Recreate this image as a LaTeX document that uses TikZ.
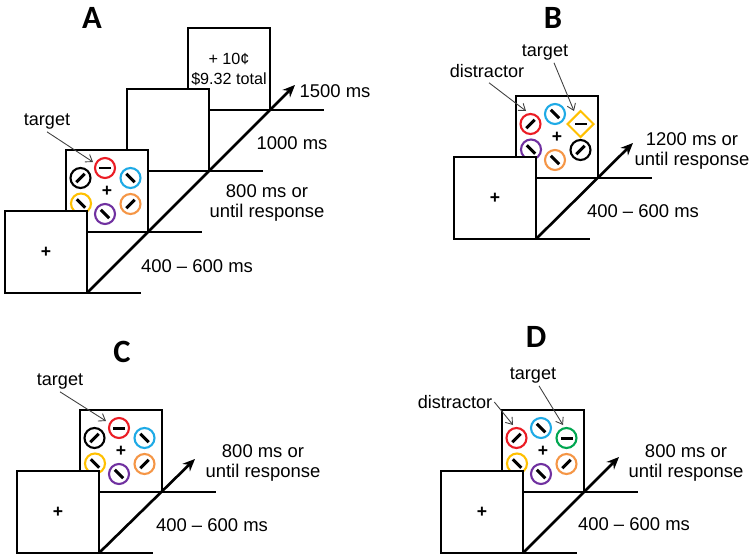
\documentclass[tikz,border=0pt]{standalone}
\usepackage{fontspec}
\setmainfont{Liberation Sans}
\newfontfamily\panelfont{Carlito}
\usetikzlibrary{calc,arrows.meta}
\definecolor{ringred}{RGB}{235,28,36}
\definecolor{ringblue}{RGB}{30,170,230}
\definecolor{ringorange}{RGB}{245,150,70}
\definecolor{ringpurple}{RGB}{112,48,160}
\definecolor{ringyellow}{RGB}{255,192,0}
\definecolor{ringgreen}{RGB}{0,166,80}
\tikzset{
  screen/.style={draw, fill=white, line width=1.4pt, minimum size=1.64cm, inner sep=0pt, outer sep=0pt, font=\fontsize{10}{12}\selectfont\bfseries},
  trackline/.style={line width=1.4pt},
  timeline/.style={line width=1.5pt, -{Stealth[length=7pt,width=6pt]}},
  pointer/.style={line width=0.5pt, black!75, -{Straight Barb[length=3.5pt,width=5pt]}},
  panel/.style={font=\panelfont\fontsize{18.5}{22}\selectfont\bfseries},
  timing/.style={align=center, font=\fontsize{10.5}{11.4}\selectfont},
  note/.style={font=\fontsize{10.3}{12}\selectfont, inner sep=1pt},
  ring/.style={draw=#1, line width=1.2pt},
  bar/.style={line width=1.7pt},
}
\def\stimring#1(#2)(#3)#4{\draw[ring=#1] ($(#2)+(#3)$) circle (0.2cm);
  \draw[bar] ($(#2)+(#3)+(#4:6)$) -- ($(#2)+(#3)+(#4+180:6)$);}
\def\stimdiamond#1(#2)(#3)#4{\draw[ring=#1] ($(#2)+(#3)+(0,-13)$) -- ++(13,13) -- ++(-13,13) -- ++(-13,-13) -- cycle;
  \draw[bar] ($(#2)+(#3)+(#4:6)$) -- ($(#2)+(#3)+(#4+180:6)$);}

\begin{document}
\begin{tikzpicture}[x=0.02cm, y=-0.02cm]
  \useasboundingbox (0,0) rectangle (750,558);

  %%%%% A %%%%%
  \node[panel] (lblA) at (92,18) {A};

  \node[screen, align=center, font=\fontsize{9.2}{11.3}\selectfont] (fbA) at (229,69) {+ 10¢\\\$9.32 total};
  \draw[trackline] (fbA.south west) -- ++(136,0);
  \node[screen] (blankA) at (168,130) {};
  \draw[trackline] (blankA.south west) -- ++(136,0);
  \node[screen] (stimA) at (107,191) {+};
  \stimring{ringred}(stimA)(-2,-23){0}
  \stimring{ringblue}(stimA)(23.5,-13){45}
  \stimring{ringorange}(stimA)(23.5,13){-45}
  \stimring{ringpurple}(stimA)(-2,23){45}
  \stimring{ringyellow}(stimA)(-26,12.5){45}
  \stimring{black}(stimA)(-26.5,-13){-45}
  \draw[trackline] (stimA.south west) -- ++(136,0);
  \node[screen] (fixA) at (46,252) {+};
  \draw[trackline] (fixA.south west) -- ++(136,0);
  \draw[timeline] (fixA.south east) -- ($(fbA.south east)+(25,-25)$);

  \node[timing] (tA4) at (335,91) {1500 ms};
  \node[timing] (tA3) at (292,143) {1000 ms};
  \node[timing] (tA2) at (267,203) {800 ms or\\until response};
  \node[timing] (tA1) at (197,266) {400 \textendash{} 600 ms};

  \node[note] (tgA) at (47,122) {target};
  \coordinate (tgAtip) at (93,162);
  \draw[pointer] (tgA.south) -- (tgAtip);

  %%%%% B %%%%%
  \node[panel] (lblB) at (553,18) {B};

  \node[screen] (stimB) at (557,137) {+};
  \stimring{ringred}(stimB)(-26.5,-13){-45}
  \stimring{ringblue}(stimB)(-2,-23){45}
  \stimdiamond{ringyellow}(stimB)(23.5,-13){0}
  \stimring{black}(stimB)(23.5,13){-45}
  \stimring{ringorange}(stimB)(-2,23){45}
  \stimring{ringpurple}(stimB)(-26,12.5){45}
  \draw[trackline] (stimB.south west) -- ++(136,0);
  \node[screen] (fixB) at (495,198) {+};
  \draw[trackline] (fixB.south west) -- ++(136,0);
  \draw[timeline] (fixB.south east) -- ($(stimB.south east)+(35,-35)$);

  \node[timing] (tB2) at (692,151) {1200 ms or\\until response};
  \node[timing] (tB1) at (643,211) {400 \textendash{} 600 ms};

  \node[note] (dsB) at (487,71) {distractor};
  \node[note] (tgB) at (545,53) {target};
  \coordinate (dsBtip) at (526,111);
  \coordinate (tgBtip) at (574,111);
  \draw[pointer] ($(dsB.south)+(2,3)$) -- (dsBtip);
  \draw[pointer] ($(tgB.south)+(9,0)$) -- (tgBtip);

  %%%%% C %%%%%
  \node[panel] (lblC) at (122,352) {C};

  \node[screen] (stimC) at (121,451) {+};
  \stimring{ringred}(stimC)(-2,-23){0}
  \stimring{ringblue}(stimC)(23.5,-13){45}
  \stimring{ringorange}(stimC)(23.5,13){-45}
  \stimring{ringpurple}(stimC)(-2,23){45}
  \stimring{ringyellow}(stimC)(-26,12.5){45}
  \stimring{black}(stimC)(-26.5,-13){-45}
  \draw[trackline] (stimC.south west) -- ++(136,0);
  \node[screen] (fixC) at (58,512) {+};
  \draw[trackline] (fixC.south west) -- ++(136,0);
  \draw[timeline] (fixC.south east) -- ($(stimC.south east)+(33,-33)$);

  \node[timing] (tC2) at (263,463) {800 ms or\\until response};
  \node[timing] (tC1) at (212,525) {400 \textendash{} 600 ms};

  \node[note] (tgC) at (60,382) {target};
  \coordinate (tgCtip) at (106,421);
  \draw[pointer] (tgC.south) -- (tgCtip);

  %%%%% D %%%%%
  \node[panel] (lblD) at (536,337) {D};

  \node[screen] (stimD) at (543,451) {+};
  \stimring{ringred}(stimD)(-26.5,-13){-45}
  \stimring{ringblue}(stimD)(-2,-23){45}
  \stimring{ringgreen}(stimD)(23.5,-13){0}
  \stimring{ringorange}(stimD)(23.5,13){-45}
  \stimring{ringpurple}(stimD)(-2,23){45}
  \stimring{ringyellow}(stimD)(-26,12.5){45}
  \draw[trackline] (stimD.south west) -- ++(136,0);
  \node[screen] (fixD) at (482,512) {+};
  \draw[trackline] (fixD.south west) -- ++(136,0);
  \draw[timeline] (fixD.south east) -- ($(stimD.south east)+(35,-35)$);

  \node[timing] (tD2) at (686,463) {800 ms or\\until response};
  \node[timing] (tD1) at (634,524) {400 \textendash{} 600 ms};

  \node[note] (dsD) at (455,402) {distractor};
  \node[note] (tgD) at (533,376) {target};
  \coordinate (dsDtip) at (513,425);
  \coordinate (tgDtip) at (563,425);
  \draw[pointer] (dsD.east) -- (dsDtip);
  \draw[pointer] ($(tgD.south)+(6,0)$) -- (tgDtip);
\end{tikzpicture}
\end{document}
